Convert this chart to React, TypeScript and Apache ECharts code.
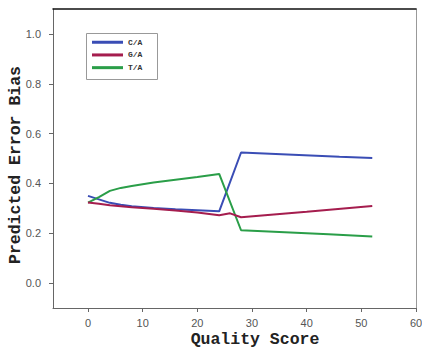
import React, { useEffect, useRef } from "react";
import * as echarts from "echarts";

const seriesNames = ["C/A", "G/A", "T/A"];
const xTitle = "Quality Score";
const yTitle = "Predicted Error Bias";
const xTicks = [0, 10, 20, 30, 40, 50, 60];
const yTicks = [0, 0.2, 0.4, 0.6, 0.8, 1.0];
const caData: [number, number][] = [
  [0, 0.35], [2, 0.336], [4, 0.322], [6, 0.314], [8, 0.308], [12, 0.301],
  [16, 0.296], [20, 0.292], [24, 0.288], [28, 0.524], [46, 0.507], [52, 0.502],
];
const gaData: [number, number][] = [
  [0, 0.323], [2, 0.318], [4, 0.312], [8, 0.304], [12, 0.298], [16, 0.291],
  [20, 0.283], [24, 0.272], [26, 0.28], [28, 0.264], [40, 0.286], [52, 0.309],
];
const taData: [number, number][] = [
  [0, 0.323], [2, 0.345], [4, 0.37], [6, 0.382], [8, 0.39], [12, 0.404],
  [16, 0.415], [20, 0.426], [24, 0.438], [28, 0.212], [44, 0.196], [52, 0.187],
];
const colors = ["#3a4db5", "#a51d4e", "#2a9e48"];

export default function App() {
  const ref = useRef<HTMLDivElement>(null);
  useEffect(() => {
    const chart = echarts.init(ref.current!, null, { renderer: "svg" });
    const mono = "'Liberation Mono', 'Courier New', monospace";
    const tickLabel = { color: "#555", fontSize: 11, fontFamily: "'Liberation Sans', Arial, sans-serif" };
    const titleStyle = { fontFamily: mono, fontWeight: "bold", fontSize: 16.5, fill: "#222" };
    chart.setOption({
      animation: false,
      backgroundColor: "#fff",
      grid: { left: 53, top: 9, right: 6, bottom: 40, containLabel: false, outerBoundsMode: "none" },
      xAxis: [
        {
          type: "value",
          min: -6.4,
          max: 60,
          axisLine: { show: true, onZero: false, lineStyle: { color: "#666", width: 1 } },
          axisTick: { show: true, length: 4, lineStyle: { color: "#666" }, customValues: xTicks },
          axisLabel: { ...tickLabel, margin: 9, customValues: xTicks },
          splitLine: { show: false },
        },
        {
          type: "value",
          position: "top",
          min: -6.4,
          max: 60,
          axisLine: { show: true, onZero: false, lineStyle: { color: "#111", width: 1.5 } },
          axisTick: { show: false },
          axisLabel: { show: false },
          splitLine: { show: false },
        },
      ],
      yAxis: [
        {
          type: "value",
          min: -0.1,
          max: 1.1,
          axisLine: { show: true, onZero: false, lineStyle: { color: "#666", width: 1 } },
          axisTick: { show: true, length: 4, lineStyle: { color: "#666" }, customValues: yTicks },
          axisLabel: {
            ...tickLabel,
            margin: 12,
            customValues: yTicks,
            formatter: (v: number) => v.toFixed(1),
          },
          splitLine: { show: false },
        },
        {
          type: "value",
          position: "right",
          min: -0.1,
          max: 1.1,
          axisLine: { show: true, onZero: false, lineStyle: { color: "#999", width: 1 } },
          axisTick: { show: false },
          axisLabel: { show: false },
          splitLine: { show: false },
        },
      ],
      legend: {
        orient: "vertical",
        left: 92,
        top: 37.5,
        padding: 0,
        icon: "rect",
        itemWidth: 31,
        itemHeight: 3,
        itemGap: 3.2,
        data: seriesNames,
        textStyle: { fontFamily: mono, fontWeight: "bold", fontSize: 8, lineHeight: 9.5, color: "#333" },
      },
      graphic: [
        {
          type: "rect",
          shape: { x: 86.5, y: 33.5, width: 71, height: 46 },
          style: { fill: "none", stroke: "#999", lineWidth: 1 },
          z: 10,
        },
        {
          type: "text",
          x: 255,
          y: 339,
          style: { ...titleStyle, text: xTitle, align: "center", verticalAlign: "middle", lineHeight: 16 },
        },
        {
          type: "text",
          x: 15,
          y: 165,
          rotation: Math.PI / 2,
          style: { ...titleStyle, text: yTitle, align: "center", verticalAlign: "middle", lineHeight: 16 },
        },
      ],
      series: [caData, gaData, taData].map((d, i) => ({
        name: seriesNames[i],
        type: "line",
        data: d,
        symbol: "none",
        smooth: false,
        lineStyle: { color: colors[i], width: 2 },
        itemStyle: { color: colors[i] },
        z: i === 1 ? 3 : 2,
      })),
    });
    return () => chart.dispose();
  }, []);
  return <div ref={ref} style={{ width: 422, height: 348, position: "absolute", left: 0, top: 0 }} />;
}
